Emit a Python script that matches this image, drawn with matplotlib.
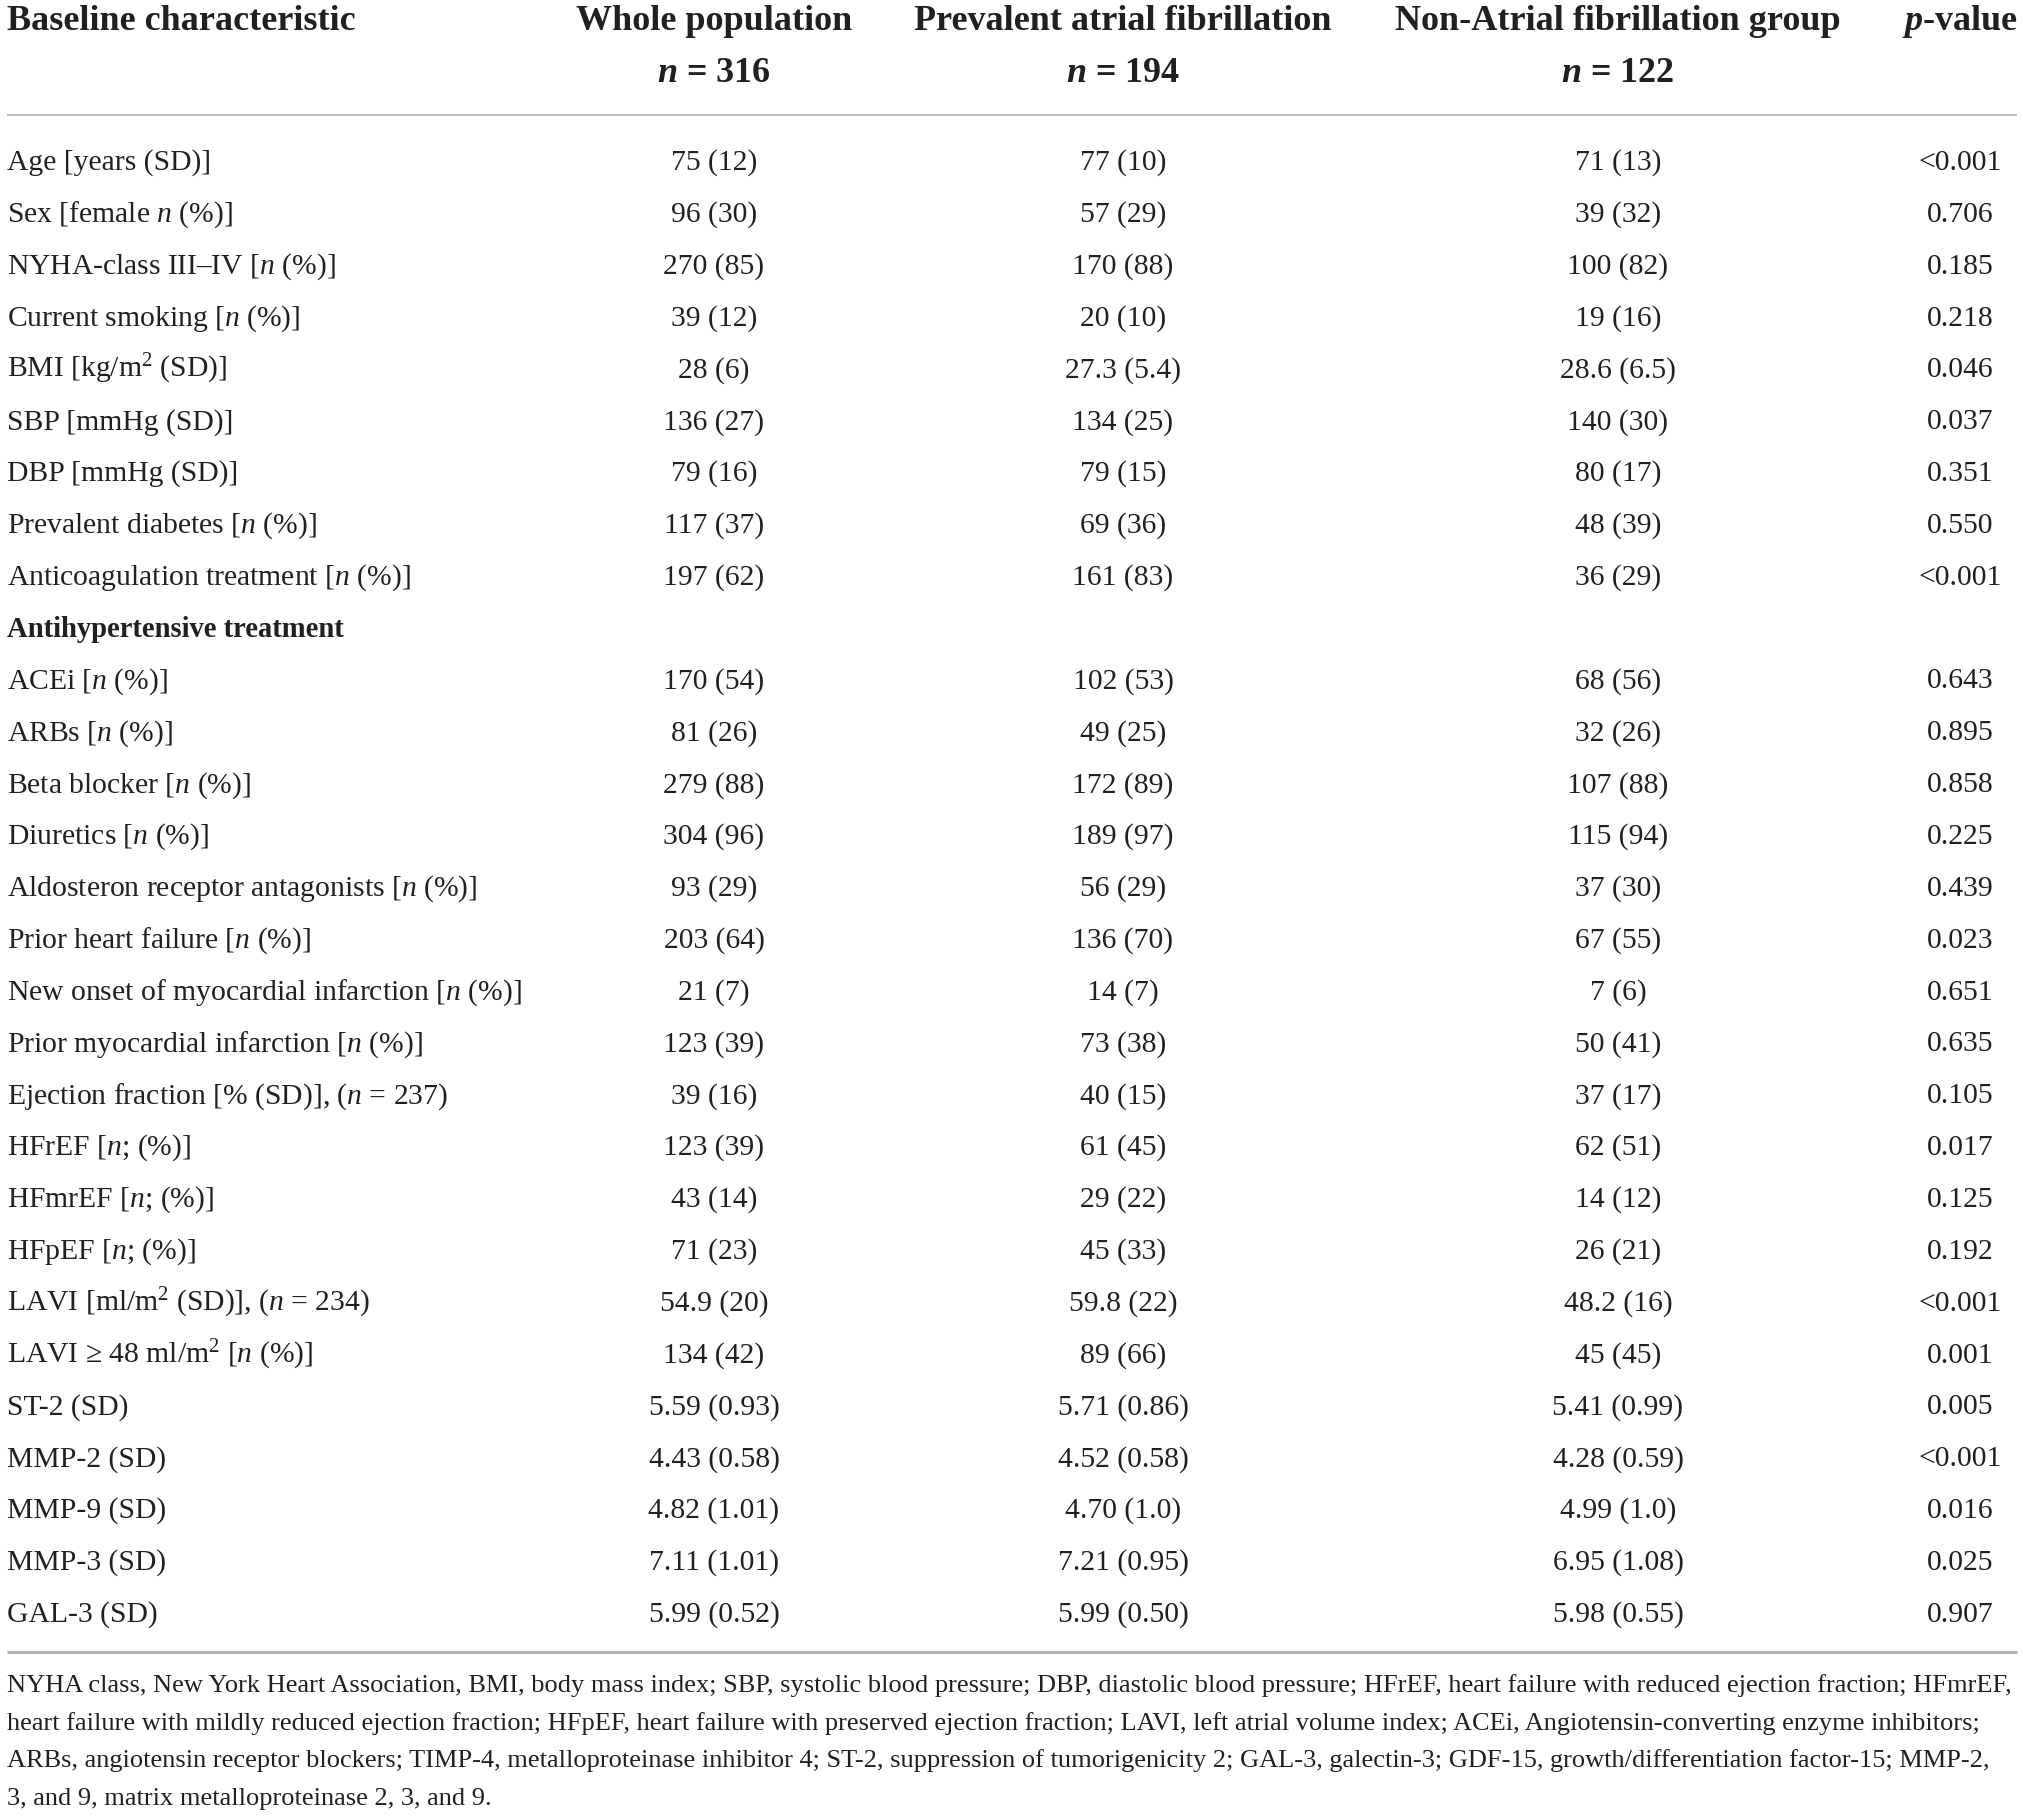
import matplotlib
matplotlib.use('Agg')
import matplotlib.pyplot as plt

plt.rcParams['font.family'] = ['Liberation Serif', 'DejaVu Serif']
plt.rcParams['mathtext.fontset'] = 'custom'
plt.rcParams['mathtext.rm'] = 'Liberation Serif'
plt.rcParams['mathtext.it'] = 'Liberation Serif:italic'
plt.rcParams['mathtext.bf'] = 'Liberation Serif:bold'
plt.rcParams['mathtext.bfit'] = 'Liberation Serif:italic:bold'

# table contents
header_cols = ['Whole population', 'Prevalent atrial fibrillation',
               'Non-Atrial fibrillation group']
header_n = ['316', '194', '122']

labels = [
    'Age [years (SD)]',
    'Sex [female $n$ (%)]',
    'NYHA-class III\u2013IV [$n$ (%)]',
    'Current smoking [$n$ (%)]',
    'BMI [kg/m$^2$ (SD)]',
    'SBP [mmHg (SD)]',
    'DBP [mmHg (SD)]',
    'Prevalent diabetes [$n$ (%)]',
    'Anticoagulation treatment [$n$ (%)]',
    'Antihypertensive treatment',
    'ACEi [$n$ (%)]',
    'ARBs [$n$ (%)]',
    'Beta blocker [$n$ (%)]',
    'Diuretics [$n$ (%)]',
    'Aldosteron receptor antagonists [$n$ (%)]',
    'Prior heart failure [$n$ (%)]',
    'New onset of myocardial infarction [$n$ (%)]',
    'Prior myocardial infarction [$n$ (%)]',
    'Ejection fraction [% (SD)], ($n$ = 237)',
    'HFrEF [$n$; (%)]',
    'HFmrEF [$n$; (%)]',
    'HFpEF [$n$; (%)]',
    'LAVI [ml/m$^2$ (SD)], ($n$ = 234)',
    'LAVI \u2265 48 ml/m$^2$ [$n$ (%)]',
    'ST-2 (SD)',
    'MMP-2 (SD)',
    'MMP-9 (SD)',
    'MMP-3 (SD)',
    'GAL-3 (SD)',
]
section_rows = ['Antihypertensive treatment']

whole = ['75 (12)', '96 (30)', '270 (85)', '39 (12)', '28 (6)', '136 (27)',
         '79 (16)', '117 (37)', '197 (62)', '', '170 (54)', '81 (26)',
         '279 (88)', '304 (96)', '93 (29)', '203 (64)', '21 (7)', '123 (39)',
         '39 (16)', '123 (39)', '43 (14)', '71 (23)', '54.9 (20)', '134 (42)',
         '5.59 (0.93)', '4.43 (0.58)', '4.82 (1.01)', '7.11 (1.01)',
         '5.99 (0.52)']
prevalent_af = ['77 (10)', '57 (29)', '170 (88)', '20 (10)', '27.3 (5.4)',
                '134 (25)', '79 (15)', '69 (36)', '161 (83)', '', '102 (53)',
                '49 (25)', '172 (89)', '189 (97)', '56 (29)', '136 (70)',
                '14 (7)', '73 (38)', '40 (15)', '61 (45)', '29 (22)',
                '45 (33)', '59.8 (22)', '89 (66)', '5.71 (0.86)',
                '4.52 (0.58)', '4.70 (1.0)', '7.21 (0.95)', '5.99 (0.50)']
non_af = ['71 (13)', '39 (32)', '100 (82)', '19 (16)', '28.6 (6.5)',
          '140 (30)', '80 (17)', '48 (39)', '36 (29)', '', '68 (56)',
          '32 (26)', '107 (88)', '115 (94)', '37 (30)', '67 (55)', '7 (6)',
          '50 (41)', '37 (17)', '62 (51)', '14 (12)', '26 (21)', '48.2 (16)',
          '45 (45)', '5.41 (0.99)', '4.28 (0.59)', '4.99 (1.0)',
          '6.95 (1.08)', '5.98 (0.55)']
p_values = ['<0.001', '0.706', '0.185', '0.218', '0.046', '0.037', '0.351',
            '0.550', '<0.001', '', '0.643', '0.895', '0.858', '0.225',
            '0.439', '0.023', '0.651', '0.635', '0.105', '0.017', '0.125',
            '0.192', '<0.001', '0.001', '0.005', '<0.001', '0.016', '0.025',
            '0.907']

footnote = [
    'NYHA class, New York Heart Association, BMI, body mass index; SBP, systolic blood pressure; '
    'DBP, diastolic blood pressure; HFrEF, heart failure with reduced ejection fraction; HFmrEF,',
    'heart failure with mildly reduced ejection fraction; HFpEF, heart failure with preserved '
    'ejection fraction; LAVI, left atrial volume index; ACEi, Angiotensin-converting enzyme inhibitors;',
    'ARBs, angiotensin receptor blockers; TIMP-4, metalloproteinase inhibitor 4; ST-2, suppression '
    'of tumorigenicity 2; GAL-3, galectin-3; GDF-15, growth/differentiation factor-15; MMP-2,',
    '3, and 9, matrix metalloproteinase 2, 3, and 9.',
]

# layout (pixels)
W, H = 2023, 1818
txt = '#231f20'
rule = '#b3b3b3'
col_x = [714, 1123, 1618]
p_x = 1960
left = 7
right = 2017
row0 = 170
row_step = 51.85

fig = plt.figure(figsize=(W / 100, H / 100), dpi=100)
ax = fig.add_axes([0, 0, 1, 1])
ax.set_xlim(0, W)
ax.set_ylim(H, 0)
ax.axis('off')

# header
hfs = 26
ax.text(left, 30, 'Baseline characteristic', fontsize=hfs, fontweight='bold',
        color=txt, ha='left', va='baseline')
for x, name, n in zip(col_x, header_cols, header_n):
    ax.text(x, 30, name, fontsize=hfs, fontweight='bold', color=txt,
            ha='center', va='baseline')
    ax.text(x, 82, r'$\mathbfit{n}$ = ' + n, fontsize=hfs, fontweight='bold',
            color=txt, ha='center', va='baseline')
ax.text(p_x, 30, r'$\mathbfit{p}$-value', fontsize=hfs, fontweight='bold',
        color=txt, ha='center', va='baseline')

ax.plot([left, right], [115, 115], color=rule, lw=1.2, solid_capstyle='butt')

# body rows
bfs = 21.3
for i, lab in enumerate(labels):
    y = row0 + i * row_step
    if lab in section_rows:
        ax.text(left, y, lab, fontsize=bfs - 0.7, fontweight='bold', color=txt,
                ha='left', va='baseline')
        continue
    ax.text(left, y, lab, fontsize=bfs, color=txt, ha='left', va='baseline')
    for x, col in zip(col_x, [whole, prevalent_af, non_af]):
        ax.text(x, y, col[i], fontsize=bfs, color=txt, ha='center', va='baseline')
    ax.text(p_x, y, p_values[i], fontsize=bfs, color=txt, ha='center',
            va='baseline')

ax.plot([left, right], [1652, 1652], color=rule, lw=2.2, solid_capstyle='butt')

# footnote
ffs = 19
for j, line in enumerate(footnote):
    ax.text(left, 1692 + j * 37.6, line, fontsize=ffs, color=txt,
            ha='left', va='baseline')

fig.savefig('out.png', dpi=100, facecolor='white')
